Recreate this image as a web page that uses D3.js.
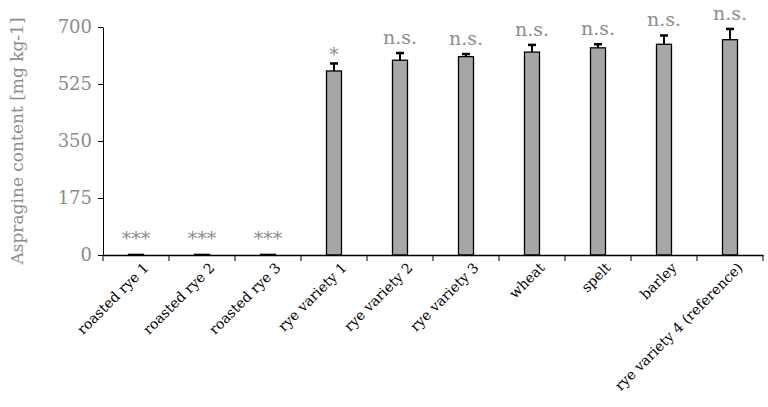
<!DOCTYPE html><html><head><script src="https://cdn.jsdelivr.net/npm/d3@7"></script>
<style>body{margin:0;background:#fff}</style></head><body><svg id="c" width="768" height="407"></svg>
<script>
const categories=["roasted rye 1","roasted rye 2","roasted rye 3","rye variety 1","rye variety 2","rye variety 3","wheat","spelt","barley","rye variety 4 (reference)"];
const values=[2,2,2,565,598,609,623,636,647,661];
const errors=[0,0,0,23,22,8,22,11,27,33];
const signif=["***","***","***","*","n.s.","n.s.","n.s.","n.s.","n.s.","n.s."];
const yTicks=[0,175,350,525,700];
const svg=d3.select("#c");
const font="'DejaVu Serif', 'Liberation Serif', serif";
const x=d3.scaleBand().domain(categories).range([103,763]).paddingInner(0).paddingOuter(0);
const y=d3.scaleLinear().domain([0,700]).range([255,27]);
const gray="#8c8c8c";
const ya=svg.append("g").attr("transform","translate(103,0)").call(d3.axisLeft(y).tickValues(yTicks).tickSize(5).tickSizeOuter(0));
ya.select(".domain").attr("stroke","#000");
ya.selectAll("line").attr("stroke","#000");
ya.selectAll("text").attr("font-family",font).attr("font-size",18).attr("fill",gray).attr("dx",-3);
svg.append("text").attr("transform","translate(23,141) rotate(-90)").attr("text-anchor","middle")
 .attr("font-family",font).attr("font-size",17).attr("fill",gray).text("Aspragine content [mg kg-1]");
const bw=15;
svg.selectAll("rect.b").data(categories).join("rect").attr("x",d=>x(d)+x.bandwidth()/2-bw/2)
 .attr("y",(d,i)=>y(values[i])).attr("width",bw).attr("height",(d,i)=>y(0)-y(values[i]))
 .attr("fill","#a6a6a6").attr("stroke","#000").attr("stroke-width",1.3);
categories.forEach((d,i)=>{ if(!errors[i])return; const cx=x(d)+x.bandwidth()/2;
 svg.append("line").attr("x1",cx).attr("x2",cx).attr("y1",y(values[i])).attr("y2",y(values[i]+errors[i])).attr("stroke","#000").attr("stroke-width",2);
 svg.append("line").attr("x1",cx-4).attr("x2",cx+4).attr("y1",y(values[i]+errors[i])).attr("y2",y(values[i]+errors[i])).attr("stroke","#000").attr("stroke-width",2.5);
});
svg.selectAll("text.s").data(categories).join("text").attr("x",d=>x(d)+x.bandwidth()/2)
 .attr("y",(d,i)=>y(values[i]+errors[i])-(signif[i]==="*"?10:9)+(signif[i]==="*"?8:0)).attr("text-anchor","middle")
 .attr("font-family",font).attr("font-size",19).attr("fill",gray).text((d,i)=>signif[i]);
const xa=svg.append("g").attr("transform","translate(0,255)").call(d3.axisBottom(x).tickSize(0).tickSizeOuter(0));
xa.select(".domain").attr("stroke","#000").attr("stroke-width",1.3);
xa.selectAll("text").attr("font-family",font).attr("font-size",14).attr("fill","#000")
 .attr("text-anchor","end").attr("transform","translate(8,8) rotate(-45)").attr("dy","0.35em");
const bounds=d3.range(categories.length+1).map(i=>103+i*x.step());
svg.selectAll("line.t").data(bounds).join("line").attr("x1",d=>d).attr("x2",d=>d).attr("y1",255).attr("y2",261).attr("stroke","#000");
</script></body></html>
